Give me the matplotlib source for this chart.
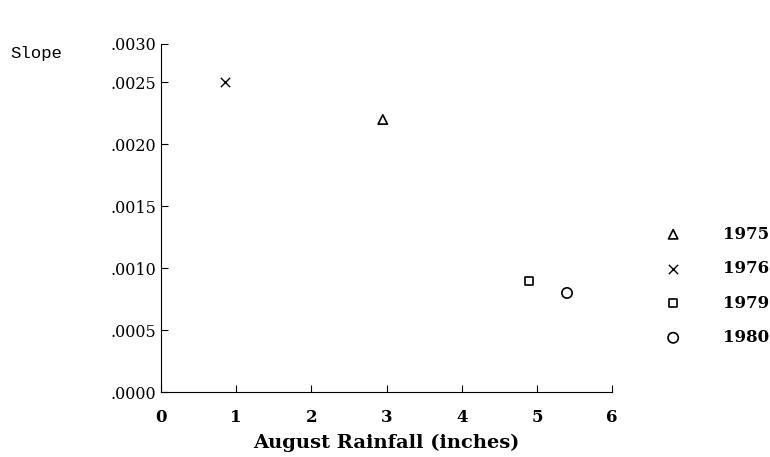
import matplotlib.pyplot as plt

years = ["1975", "1976", "1979", "1980"]
rainfall = [2.95, 0.85, 4.9, 5.4]
slope = [0.0022, 0.0025, 0.0009, 0.0008]
markers = ["^", "x", "s", "o"]
sizes = [45, 45, 32, 55]

xticks = [0, 1, 2, 3, 4, 5, 6]
# the top tick of the original sits lower than a linear .0030 would
yticks = [0.0, 0.0005, 0.0010, 0.0015, 0.0020, 0.0025, 0.00281]
ytick_labels = [".0000", ".0005", ".0010", ".0015", ".0020", ".0025", ".0030"]

plt.rcParams["font.family"] = ["DejaVu Serif"]

fig = plt.figure(figsize=(7.7, 4.57), dpi=100)
ax = fig.add_axes([0.209, 0.142, 0.586, 0.762])

for yr, xv, yv, m, s in zip(years, rainfall, slope, markers, sizes):
    if m == "x":
        ax.scatter(xv, yv, marker=m, s=s, color="black", linewidths=1.0, label=yr)
    else:
        ax.scatter(xv, yv, marker=m, s=s, facecolors="none", edgecolors="black",
                   linewidths=1.2, label=yr)

ax.set_xlim(0, 6)
ax.set_ylim(0, 0.00281)
ax.set_xticks(xticks)
ax.set_yticks(yticks)
ax.set_yticklabels(ytick_labels)
ax.spines["top"].set_visible(False)
ax.spines["right"].set_visible(False)
ax.tick_params(direction="in", length=5, colors="black")
ax.tick_params(axis="y", labelsize=11.5)
ax.tick_params(axis="x", labelsize=12, pad=12)
for t in ax.get_xticklabels():
    t.set_fontweight("bold")

ax.set_xlabel("August Rainfall (inches)", fontsize=14, fontweight="bold", labelpad=6)
fig.text(0.014, 0.884, "Slope", fontsize=12.5, family="Liberation Mono", va="center")

leg = ax.legend(loc="center left", bbox_to_anchor=(1.065, 0.305), frameon=False,
                prop={"size": 12, "weight": "bold"}, labelspacing=1.05,
                handletextpad=2.0, scatterpoints=1)

plt.savefig("out.png", dpi=100)
